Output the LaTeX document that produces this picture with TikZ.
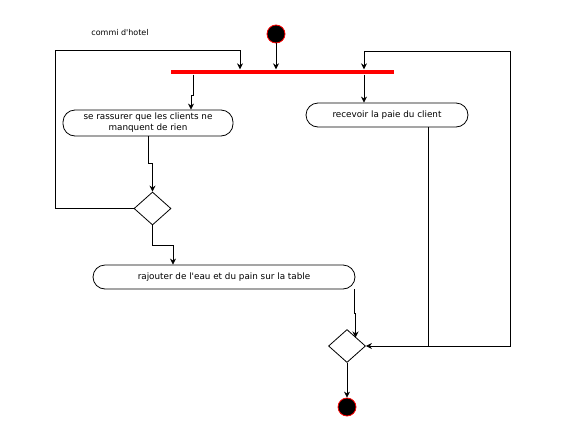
\documentclass[tikz,border=0pt]{standalone}
\usepackage{fontspec}
\newfontfamily\uifont{DejaVu Sans}
\usetikzlibrary{shapes.geometric,arrows.meta}
\begin{document}
\begin{tikzpicture}[x=1pt,y=-1pt, line width=0.8pt,
 act/.style={draw, rounded corners=12pt, inner sep=0pt, font=\uifont\fontsize{8.8}{11}\selectfont, align=center},
 dec/.style={draw, diamond, minimum width=37pt, minimum height=33pt, inner sep=0pt},
 arr/.style={-{Stealth[length=6pt,width=6pt]}},
 term/.style={circle, draw=red, fill=black, minimum size=18pt, inner sep=0pt, line width=0.8pt}]
\useasboundingbox (0,0) rectangle (567,437);
\node[font=\uifont\fontsize{8}{10}\selectfont] (lbl) at (120,33) {commi d'hotel};
\node[term] (start) at (276,34) {};
\node[fill=red, minimum width=223pt, minimum height=4.5pt, inner sep=0pt] (bar) at (282.5,72) {};
\node[act, minimum width=170pt, minimum height=26pt] (a1) at (148,123) {se rassurer que les clients ne\\manquent de rien};
\node[act, minimum width=162pt, minimum height=24pt] (a2) at (387,115) {recevoir la paie du client};
\node[dec] (d1) at (152.5,208.5) {};
\node[act, minimum width=262pt, minimum height=24pt] (a3) at (224,277) {rajouter de l'eau et du pain sur la table};
\node[dec] (d2) at (347,346) {};
\node[term] (end) at (347,407) {};
% coordinates
\coordinate (l1) at (55,50);
\coordinate (l2) at (240,50);
\coordinate (j1) at (193,95);
\coordinate (j2) at (191,95);
\coordinate (r1) at (364,51);
\coordinate (j3) at (148,163);
\coordinate (j4) at (152.5,163);
\coordinate (j5) at (152.5,245);
\coordinate (j6) at (173,245);
\coordinate (j7) at (354,313);
\coordinate (j8) at (355.5,313);
\coordinate (t2) at (355.5,337.5);
\coordinate (k1) at (428,346);
\coordinate (k2) at (510,346);
\coordinate (k3) at (510,51);
% connectors
\draw[arr] (start.south) -- (start.south |- bar.north);
\draw[arr] (d1.west) -- (d1.west -| l1) -- (l1) -- (l2) -- (l2 |- bar.north);
\draw[arr] (j1 |- bar.south) -- (j1) -- (j2) -- (j2 |- a1.north);
\draw[arr] (r1 |- bar.south) -- (r1 |- a2.north);
\draw[arr] (j3 |- a1.south) -- (j3) -- (j4) -- (d1.north);
\draw[arr] (d1.south) -- (j5) -- (j6) -- (j6 |- a3.north);
\draw[arr] (j7 |- a3.south) -- (j7) -- (j8) -- (t2);
\draw[arr] (k1 |- a2.south) -- (k1) -- (d2.east);
\draw[arr] (k1) -- (k2) -- (k3) -- (r1) -- (r1 |- bar.north);
\draw[arr] (d2.south) -- (end.north);
\end{tikzpicture}
\end{document}
